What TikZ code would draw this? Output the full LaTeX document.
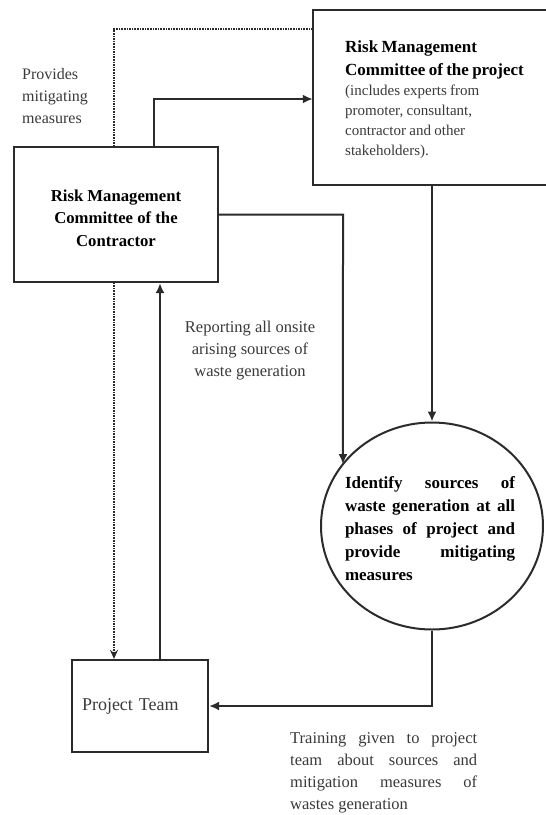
\documentclass[tikz,border=0pt]{standalone}
\usepackage{fontspec}
\setmainfont{Liberation Serif}
\usetikzlibrary{arrows.meta,intersections,backgrounds,shapes.geometric}
\tolerance=10000 \hbadness=10000
\definecolor{ln}{HTML}{2B2B2B}
\definecolor{tx}{HTML}{3A3A3A}
\begin{document}
\begin{tikzpicture}[x=1pt,y=-1pt,
  box/.style={draw=ln,line width=2.2pt,fill=white,inner sep=0pt},
  arr/.style={draw=ln,line width=2pt,-{Latex[length=10pt,width=9pt]}},
  dotarr/.style={draw=ln,line width=2pt,dash pattern=on 1.6pt off 1pt,-{Stealth[length=9pt,width=8pt]}},
  lbl/.style={text=tx,font=\fontsize{16.5}{22.5}\selectfont,inner sep=0pt},
  bld/.style={text=black,font=\bfseries\fontsize{16.7}{22.5}\selectfont,inner sep=0pt}]
\useasboundingbox (0,0) rectangle (546,815);

% nodes
\node[box,minimum width=204pt,minimum height=135pt] (contr) at (116,214.5) {};
\node[bld,align=center] (contrtxt) at (116,218) {Risk Management\\Committee of the\\Contractor};
\node[draw=none,minimum width=238pt,minimum height=175pt,inner sep=0pt] (proj) at (432,97.5) {};
\draw[ln,line width=2.2pt] (proj.north east) -- (proj.north west) -- (proj.south west) -- (proj.south east);
\node[anchor=north west,text width=200pt,align=left,inner sep=0pt] (projtxt) at (345,40)
  {{\bfseries\fontsize{17}{23}\selectfont Risk Management\\Committee of the project\par}{\fontsize{15}{20}\selectfont\color{tx}(includes experts from\\promoter, consultant,\\contractor and other\\stakeholders).\par}};
\node[draw=ln,line width=2pt,ellipse,minimum width=222pt,minimum height=207pt,inner sep=0pt,name path=circ] (circ) at (432,526) {};
\node[inner sep=0pt] (circtxt) at (430,529) {\parbox{170pt}{\bfseries\fontsize{17}{23}\selectfont Identify sources of\linebreak waste generation at all\linebreak phases of project and\linebreak provide mitigating\linebreak measures}};
\node[box,lbl,font=\fontsize{18}{22}\selectfont,minimum width=136pt,minimum height=92pt,text width=116pt,align=left] (team) at (140,706) {Project Team};

% labels
\node[lbl,font=\fontsize{16}{22}\selectfont,anchor=north west,align=left] (prov) at (22,68) {Provides\\mitigating\\measures};
\node[lbl,font=\fontsize{16.5}{22}\selectfont,anchor=north,align=center] (rep) at (250,321) {Reporting all onsite\\arising sources of\\waste generation};
\node[lbl,anchor=north west] (train) at (290,732) {\parbox{187pt}{\fontsize{16.5}{22}\selectfont Training given to project\linebreak team about sources and\linebreak mitigation measures of\linebreak wastes generation}};

% connectors
\coordinate (d) at (114,29);
\begin{pgfonlayer}{background}
\fill[white] (0,0) rectangle (546,815);
\draw[dotarr] (proj.west |- d) -- (d) -- (team.north -| d);
\end{pgfonlayer}
\coordinate (c1) at (154,99);
\draw[arr] (contr.north -| c1) -- (c1) -- (proj.west |- c1);
\coordinate (c2) at (343,214.5);
\path[name path=vl] (c2) -- ++(0,400);
\path[name intersections={of=circ and vl,by=ci}];
\draw[arr] (contr.east) -- (c2) -- (ci);
\draw[arr] (proj.south) -- (circ.north);
\draw[arr] (circ.south) |- (team.east);
\coordinate (u) at (160,0);
\draw[arr] (team.north -| u) -- (contr.south -| u);
\end{tikzpicture}
\end{document}
